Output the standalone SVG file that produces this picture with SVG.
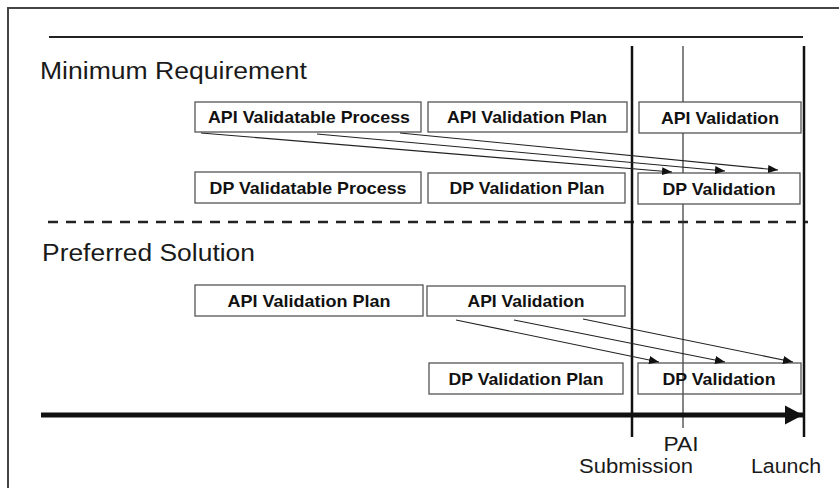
<svg xmlns="http://www.w3.org/2000/svg" width="839" height="488" viewBox="0 0 839 488">
<defs>
<style>
.box{fill:#fff;stroke:#555;stroke-width:1.3}
.boxc{fill:none;stroke:#555;stroke-width:1.3}
.lbl{font-family:"Liberation Sans",Arial,sans-serif;font-weight:bold;font-size:16.5px;fill:#111;text-anchor:middle}
.title{font-family:"Liberation Sans",Arial,sans-serif;font-size:23px;fill:#1a1a1a}
.tl{font-family:"Liberation Sans",Arial,sans-serif;font-size:19.5px;fill:#1a1a1a;text-anchor:middle}
.arr{stroke:#222;stroke-width:1.1;fill:none;marker-end:url(#ah)}
</style>
<marker id="ah" markerUnits="userSpaceOnUse" markerWidth="12" markerHeight="10" refX="10" refY="4" orient="auto">
<path d="M0,0 L10,4 L0,8 Z" fill="#111"/>
</marker>
<marker id="big" markerUnits="userSpaceOnUse" markerWidth="20" markerHeight="20" refX="18" refY="10" orient="auto">
<path d="M0,0.5 L18,10 L0,19.5 Z" fill="#111"/>
</marker>
</defs>
<rect x="0" y="0" width="839" height="488" fill="#fff"/>
<rect x="8" y="8" width="840" height="490" fill="none" stroke="#444" stroke-width="2"/>
<g id="frame">
<line x1="49" y1="37" x2="803" y2="37" stroke="#222" stroke-width="2"/>
<line x1="48" y1="222" x2="808" y2="222" stroke="#222" stroke-width="2.5" stroke-dasharray="10,8"/>
<line x1="632" y1="46" x2="632" y2="437" stroke="#111" stroke-width="2.5"/>
<line x1="683" y1="46" x2="683" y2="428" stroke="#333" stroke-width="1.2"/>
<line x1="804" y1="46" x2="804" y2="437" stroke="#111" stroke-width="2.5"/>
<line x1="41" y1="415" x2="803" y2="415" stroke="#111" stroke-width="5" marker-end="url(#big)"/>
<text class="title" x="40" y="79" textLength="267" lengthAdjust="spacingAndGlyphs">Minimum Requirement</text>
<text class="title" x="42" y="261" textLength="213" lengthAdjust="spacingAndGlyphs">Preferred Solution</text>
<text class="tl" x="681" y="451" textLength="35" lengthAdjust="spacingAndGlyphs">PAI</text>
<text class="tl" x="636" y="473" textLength="114" lengthAdjust="spacingAndGlyphs">Submission</text>
<text class="tl" x="786" y="473" textLength="70" lengthAdjust="spacingAndGlyphs">Launch</text>
</g>
<g id="n-api-vproc"><rect class="box" x="195" y="102" width="226" height="30"/><text class="lbl" x="309" y="123" textLength="202" lengthAdjust="spacingAndGlyphs">API Validatable Process</text></g>
<g id="n-api-vplan"><rect class="box" x="428" y="102" width="199" height="30"/><text class="lbl" x="527" y="123" textLength="160" lengthAdjust="spacingAndGlyphs">API Validation Plan</text></g>
<g id="n-api-val"><rect class="box" x="639" y="102" width="162" height="31"/><text class="lbl" x="720" y="124" textLength="118" lengthAdjust="spacingAndGlyphs">API Validation</text></g>
<g id="n-dp-vproc"><rect class="box" x="195" y="172" width="226" height="31"/><text class="lbl" x="308" y="194" textLength="197" lengthAdjust="spacingAndGlyphs">DP Validatable Process</text></g>
<g id="n-dp-vplan"><rect class="box" x="428" y="173" width="197" height="30"/><text class="lbl" x="527" y="194" textLength="155" lengthAdjust="spacingAndGlyphs">DP Validation Plan</text></g>
<g id="n-dp-val"><rect class="box" x="638" y="173" width="162" height="31"/><text class="lbl" x="719" y="195" textLength="113" lengthAdjust="spacingAndGlyphs">DP Validation</text></g>
<g id="p-api-vplan"><rect class="box" x="195" y="285" width="228" height="31"/><text class="lbl" x="309" y="307" textLength="163" lengthAdjust="spacingAndGlyphs">API Validation Plan</text></g>
<g id="p-api-val"><rect class="box" x="427" y="286" width="198" height="30"/><text class="lbl" x="526" y="307" textLength="117" lengthAdjust="spacingAndGlyphs">API Validation</text></g>
<g id="p-dp-vplan"><rect class="box" x="429" y="363" width="194" height="31"/><text class="lbl" x="526" y="385" textLength="155" lengthAdjust="spacingAndGlyphs">DP Validation Plan</text></g>
<g id="p-dp-val"><rect class="boxc" x="638" y="363" width="163" height="31"/><text class="lbl" x="719" y="385" textLength="113" lengthAdjust="spacingAndGlyphs">DP Validation</text></g>
<g id="connectors">
<line class="arr" x1="201" y1="133" x2="672" y2="172"/>
<line class="arr" x1="317" y1="134" x2="725" y2="171"/>
<line class="arr" x1="400" y1="133" x2="778" y2="170"/>
<line class="arr" x1="456" y1="320" x2="659" y2="362"/>
<line class="arr" x1="514" y1="320" x2="725" y2="362"/>
<line class="arr" x1="583" y1="319" x2="793" y2="362"/>
</g>
</svg>
